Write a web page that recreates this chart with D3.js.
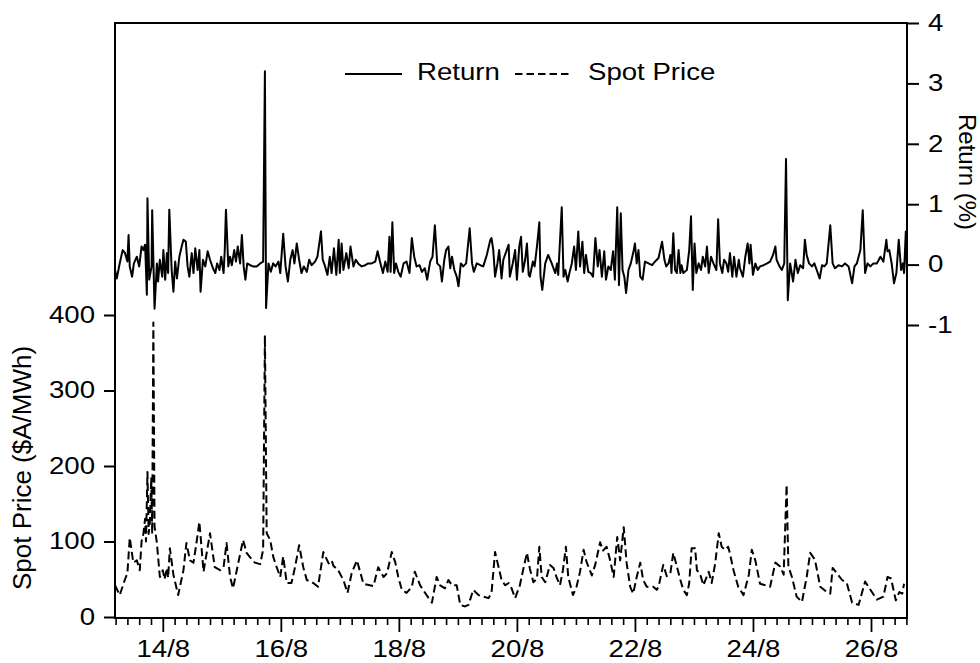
<!DOCTYPE html>
<html>
<head>
<meta charset="utf-8">
<script src="https://cdn.jsdelivr.net/npm/d3@7/dist/d3.min.js"></script>
<style>
  html, body { margin: 0; padding: 0; background: #fff; }
  svg { display: block; }
  text { font-family: "Liberation Sans", Arial, Helvetica, sans-serif; fill: #000; }
</style>
</head>
<body>
<svg id="chart" width="980" height="663"></svg>
<script>
// ---------------- DATA ----------------
const seriesNames = ["Return", "Spot Price"];

// x values are days of August (14 = 14/8 00:00)
const xTickDays = [14, 16, 18, 20, 22, 24, 26];
const xTickLabels = ["14/8", "16/8", "18/8", "20/8", "22/8", "24/8", "26/8"];
const priceTicks = [0, 100, 200, 300, 400];
const returnTicks = [-1, 0, 1, 2, 3, 4];

const spotDay = [13.19, 13.27, 13.36, 13.40, 13.44, 13.50, 13.56, 13.61, 13.64, 13.67,
  13.70, 13.715, 13.74, 13.76, 13.78, 13.805, 13.82, 13.84, 13.86, 13.90,
  13.95, 14.00, 14.03, 14.07, 14.09, 14.12, 14.18, 14.26, 14.35, 14.40,
  14.46, 14.52, 14.57, 14.62, 14.69, 14.80, 14.88, 14.97, 15.03, 15.08,
  15.14, 15.19, 15.28, 15.36, 15.42, 15.48, 15.56, 15.65, 15.70, 15.73,
  15.76, 15.82, 15.87, 15.93, 15.99, 16.04, 16.10, 16.18, 16.24, 16.31,
  16.38, 16.44, 16.55, 16.63, 16.72, 16.81, 16.86, 16.89, 16.97, 17.06,
  17.13, 17.20, 17.29, 17.40, 17.57, 17.65, 17.74, 17.80, 17.88, 17.94,
  17.99, 18.05, 18.13, 18.22, 18.27, 18.36, 18.47, 18.56, 18.64, 18.70,
  18.78, 18.84, 18.90, 18.98, 19.04, 19.12, 19.18, 19.26, 19.35, 19.43,
  19.52, 19.57, 19.63, 19.69, 19.74, 19.80, 19.86, 19.91, 19.97, 20.05,
  20.11, 20.17, 20.22, 20.28, 20.34, 20.38, 20.42, 20.48, 20.56, 20.62,
  20.67, 20.73, 20.78, 20.83, 20.87, 20.95, 21.01, 21.07, 21.13, 21.18,
  21.27, 21.33, 21.41, 21.46, 21.52, 21.58, 21.64, 21.70, 21.75, 21.81,
  21.86, 21.92, 21.97, 22.03, 22.09, 22.14, 22.20, 22.31, 22.37, 22.40,
  22.48, 22.54, 22.60, 22.65, 22.71, 22.77, 22.82, 22.88, 22.92, 22.96,
  23.02, 23.05, 23.10, 23.16, 23.25, 23.30, 23.36, 23.42, 23.47, 23.53,
  23.58, 23.61, 23.67, 23.75, 23.84, 23.93, 23.98, 24.04, 24.12, 24.21,
  24.29, 24.38, 24.46, 24.52, 24.57, 24.60, 24.66, 24.74, 24.83, 24.91,
  24.97, 25.05, 25.14, 25.22, 25.31, 25.35, 25.42, 25.51, 25.59, 25.68,
  25.79, 25.90, 25.99, 26.10, 26.21, 26.28, 26.34, 26.42, 26.48, 26.53, 26.56];
const spotPrice = [42, 29, 50, 58, 105, 72, 75, 62, 100, 110,
  130, 100, 192, 110, 125, 185, 110, 390, 120, 98,
  53, 62, 50, 65, 52, 91, 56, 29, 62, 98,
  75, 72, 98, 126, 60, 111, 66, 62, 66, 98,
  53, 38, 72, 102, 85, 79, 72, 70, 89, 373,
  111, 102, 80, 66, 53, 80, 45, 45, 66, 95,
  66, 49, 45, 40, 86, 71, 75, 68, 62, 49,
  32, 58, 75, 44, 41, 66, 53, 58, 86, 72,
  53, 36, 32, 40, 60, 42, 29, 19, 53, 42,
  38, 49, 42, 42, 16, 14, 16, 36, 29, 27,
  25, 32, 86, 66, 49, 42, 45, 38, 25, 42,
  64, 85, 64, 46, 51, 93, 53, 46, 69, 65,
  53, 42, 62, 93, 53, 29, 40, 60, 89, 73,
  55, 70, 99, 88, 93, 75, 53, 106, 75, 119,
  71, 40, 31, 53, 72, 49, 40, 40, 36, 40,
  69, 54, 58, 85, 67, 49, 36, 29, 45, 91,
  91, 62, 58, 42, 60, 45, 71, 111, 93, 89,
  93, 84, 62, 40, 29, 56, 89, 75, 44, 42,
  40, 72, 67, 56, 175, 67, 53, 27, 20, 53,
  85, 76, 40, 35, 31, 65, 58, 49, 45, 19,
  16, 47, 36, 23, 27, 53, 51, 22, 33, 31, 44];

const returnDay = [13.19, 13.22, 13.27, 13.32, 13.36, 13.40, 13.42, 13.44, 13.48, 13.51,
  13.56, 13.60, 13.64, 13.67, 13.70, 13.73, 13.74, 13.77, 13.81, 13.82,
  13.86, 13.90, 13.92, 13.95, 13.99, 14.01, 14.04, 14.07, 14.09, 14.11,
  14.15, 14.18, 14.21, 14.24, 14.28, 14.32, 14.35, 14.39, 14.42, 14.45,
  14.49, 14.52, 14.55, 14.59, 14.62, 14.64, 14.68, 14.72, 14.76, 14.80,
  14.85, 14.89, 14.92, 14.96, 14.99, 15.03, 15.05, 15.07, 15.11, 15.14,
  15.17, 15.21, 15.24, 15.27, 15.31, 15.34, 15.37, 15.40, 15.43, 15.48,
  15.53, 15.59, 15.65, 15.70, 15.73, 15.75, 15.79, 15.83, 15.87, 15.91,
  15.96, 15.99, 16.04, 16.08, 16.12, 16.16, 16.20, 16.23, 16.27, 16.31,
  16.35, 16.39, 16.44, 16.48, 16.52, 16.58, 16.62, 16.68, 16.71, 16.75,
  16.79, 16.83, 16.86, 16.90, 16.94, 16.98, 17.00, 17.03, 17.06, 17.11,
  17.15, 17.18, 17.23, 17.27, 17.31, 17.37, 17.43, 17.48, 17.54, 17.60,
  17.64, 17.68, 17.73, 17.77, 17.81, 17.84, 17.86, 17.89, 17.92, 17.95,
  17.99, 18.03, 18.08, 18.13, 18.18, 18.22, 18.26, 18.30, 18.35, 18.39,
  18.44, 18.48, 18.53, 18.57, 18.61, 18.65, 18.70, 18.73, 18.77, 18.80,
  18.84, 18.87, 18.90, 18.94, 18.98, 19.01, 19.05, 19.09, 19.14, 19.20,
  19.24, 19.27, 19.32, 19.38, 19.43, 19.49, 19.55, 19.57, 19.60, 19.63,
  19.67, 19.70, 19.74, 19.77, 19.82, 19.86, 19.88, 19.93, 19.97, 20.00,
  20.04, 20.07, 20.10, 20.14, 20.17, 20.20, 20.22, 20.27, 20.30, 20.34,
  20.38, 20.40, 20.43, 20.48, 20.53, 20.59, 20.65, 20.68, 20.70, 20.76,
  20.79, 20.82, 20.86, 20.89, 20.93, 20.97, 21.00, 21.04, 21.07, 21.11,
  21.14, 21.17, 21.21, 21.25, 21.29, 21.33, 21.37, 21.40, 21.44, 21.48,
  21.51, 21.55, 21.59, 21.63, 21.66, 21.70, 21.73, 21.76, 21.79, 21.82,
  21.85, 21.89, 21.93, 21.98, 22.00, 22.03, 22.06, 22.09, 22.13, 22.17,
  22.23, 22.29, 22.34, 22.40, 22.46, 22.50, 22.53, 22.57, 22.60, 22.62,
  22.65, 22.68, 22.71, 22.74, 22.77, 22.79, 22.82, 22.88, 22.92, 22.95,
  22.98, 23.01, 23.04, 23.08, 23.12, 23.15, 23.19, 23.22, 23.25, 23.29,
  23.33, 23.38, 23.41, 23.44, 23.48, 23.51, 23.55, 23.58, 23.61, 23.65,
  23.68, 23.72, 23.76, 23.78, 23.83, 23.87, 23.91, 23.94, 23.96, 24.00,
  24.04, 24.08, 24.12, 24.18, 24.24, 24.29, 24.34, 24.38, 24.40, 24.45,
  24.49, 24.53, 24.56, 24.59, 24.63, 24.68, 24.72, 24.76, 24.80, 24.85,
  24.88, 24.91, 24.95, 25.00, 25.04, 25.08, 25.13, 25.17, 25.21, 25.25,
  25.31, 25.35, 25.39, 25.45, 25.51, 25.56, 25.62, 25.68, 25.72, 25.76,
  25.82, 25.86, 25.90, 25.94, 25.99, 26.04, 26.10, 26.16, 26.21, 26.26,
  26.28, 26.31, 26.35, 26.39, 26.43, 26.47, 26.51, 26.54, 26.56, 26.59, 26.61];
const returnPct = [-0.09, -0.23, 0.02, 0.24, 0.19, 0.05, 0.49, -0.03, -0.20, 0.02,
  0.13, -0.03, 0.30, 0.24, 0.33, -0.50, 1.10, -0.25, -0.03, 0.90,
  -0.73, 0.02, -0.28, 0.08, -0.20, 0.24, -0.25, 0.19, -0.14, 0.91,
  -0.09, -0.45, 0.05, -0.23, 0.13, 0.30, 0.41, 0.38, -0.03, -0.20,
  0.19, -0.14, 0.27, -0.09, 0.24, -0.45, 0.08, -0.03, 0.22, 0.08,
  -0.06, -0.14, 0.02, -0.09, 0.13, -0.14, 0.24, 0.91, -0.03, 0.13,
  -0.01, 0.24, 0.05, 0.30, 0.02, 0.49, -0.03, -0.25, 0.02, -0.01,
  -0.03, -0.03, 0.02, 0.05, 3.20, -0.72, 0.02, -0.12, 0.02, -0.03,
  0.05, -0.14, 0.51, -0.03, -0.28, 0.08, 0.24, 0.02, 0.35, 0.08,
  -0.14, -0.03, -0.12, 0.08, -0.01, 0.05, 0.13, 0.55, 0.08, -0.03,
  -0.17, 0.13, -0.14, 0.27, -0.17, 0.41, -0.14, 0.35, -0.09, 0.19,
  -0.06, 0.30, -0.03, 0.08, 0.02, -0.03, -0.01, 0.02, 0.02, 0.05,
  0.22, 0.05, -0.14, 0.05, -0.12, 0.46, -0.12, 0.70, -0.14, 0.02,
  -0.12, -0.20, 0.02, 0.05, -0.14, 0.44, 0.13, -0.03, -0.01, -0.12,
  -0.06, -0.25, 0.05, 0.13, 0.65, 0.02, -0.03, -0.28, 0.08, 0.24,
  0.30, -0.06, 0.13, -0.09, -0.20, -0.36, 0.02, -0.03, 0.02, 0.60,
  0.02, -0.12, 0.02, -0.01, -0.03, 0.16, 0.41, 0.44, 0.24, -0.20,
  0.02, 0.24, -0.23, 0.08, 0.22, 0.33, -0.20, 0.02, 0.24, -0.25,
  0.30, 0.46, -0.12, 0.08, 0.35, -0.17, -0.20, 0.05, -0.03, 0.30,
  0.70, -0.20, -0.42, 0.02, 0.16, 0.02, -0.14, 0.02, -0.17, 0.95,
  -0.20, -0.09, -0.28, -0.14, 0.02, 0.30, -0.09, 0.55, -0.03, 0.38,
  -0.14, 0.16, -0.12, -0.14, -0.20, 0.44, -0.03, 0.24, -0.20, 0.22,
  -0.25, -0.03, -0.09, 0.22, -0.25, 0.95, -0.34, 0.85, -0.09, -0.20,
  -0.47, -0.09, 0.02, 0.24, 0.35, 0.02, 0.24, -0.20, -0.25, 0.05,
  0.02, -0.01, 0.05, 0.11, 0.38, 0.08, -0.03, 0.02, 0.16, -0.14,
  0.52, -0.09, -0.14, 0.24, -0.14, -0.01, -0.14, -0.09, 0.24, 0.80,
  -0.42, 0.35, -0.14, 0.02, -0.09, 0.13, -0.03, 0.30, -0.14, 0.13,
  0.02, -0.09, 0.75, 0.02, -0.14, 0.08, 0.02, -0.12, 0.19, -0.20,
  0.13, -0.20, 0.08, -0.06, -0.20, 0.13, 0.35, 0.02, 0.33, -0.17,
  0.02, -0.09, -0.03, -0.01, 0.02, 0.05, 0.16, 0.30, 0.08, -0.03,
  -0.09, 0.02, 1.75, -0.59, 0.02, -0.28, 0.08, -0.14, -0.01, -0.06,
  0.41, 0.16, 0.02, -0.03, 0.02, -0.09, -0.23, -0.01, -0.03, 0.02,
  0.65, 0.02, -0.06, -0.01, -0.03, 0.02, -0.03, -0.31, -0.03, 0.02,
  0.24, 0.90, -0.14, 0.02, -0.03, 0.02, 0.02, 0.13, 0.05, 0.41,
  0.22, 0.24, 0.02, -0.31, -0.14, 0.41, -0.09, 0.02, -0.14, 0.55, -0.14];

// ---------------- CHART ----------------
const svg = d3.select("#chart");
const W = 980, H = 663;
const plot = { left: 115, right: 907, top: 23, bottom: 618 };
const SX = 1.15;            // horizontal stretch of the original lettering
const FONT = 24;

const x = d3.scaleLinear().domain([13.19, 26.61]).range([plot.left, plot.right]);
const yL = d3.scaleLinear().domain([0, 400]).range([617, 315]);
const yR = d3.scaleLinear().domain([-1, 4]).range([325, 23]);

svg.append("rect").attr("width", W).attr("height", H).attr("fill", "#fff");

// series
const spotData = spotDay.map((d, i) => [d, spotPrice[i]]);
const retData = returnDay.map((d, i) => [d, returnPct[i]]);

svg.append("path")
  .datum(spotData)
  .attr("fill", "none").attr("stroke", "#000").attr("stroke-width", 2)
  .attr("stroke-dasharray", "8,4").attr("stroke-linejoin", "round")
  .attr("d", d3.line().x(d => x(d[0])).y(d => yL(d[1])));

svg.append("path")
  .datum(retData)
  .attr("fill", "none").attr("stroke", "#000").attr("stroke-width", 2)
  .attr("stroke-linejoin", "round")
  .attr("d", d3.line().x(d => x(d[0])).y(d => yR(d[1])));

// frame
svg.append("rect")
  .attr("x", plot.left).attr("y", plot.top)
  .attr("width", plot.right - plot.left).attr("height", plot.bottom - plot.top)
  .attr("fill", "none").attr("stroke", "#000").attr("stroke-width", 2);

function styleAxis(g) {
  g.select(".domain").remove();
  g.selectAll(".tick line").attr("stroke", "#000").attr("stroke-width", 2);
  g.selectAll("text").style("font-size", FONT + "px").attr("fill", "#000");
}

// left axis
const gL = svg.append("g").attr("transform", `translate(${plot.left},0)`)
  .call(d3.axisLeft(yL).tickValues(priceTicks).tickSize(11).tickFormat(d3.format("d")));
styleAxis(gL);
gL.selectAll(".tick text").attr("x", 0).attr("dy", "0.3em")
  .attr("text-anchor", "end")
  .attr("transform", `translate(-20,0) scale(${SX},1)`);

// right axis
const gR = svg.append("g").attr("transform", `translate(${plot.right},0)`)
  .call(d3.axisRight(yR).tickValues(returnTicks).tickSize(12)
    .tickFormat(d => d < 0 ? "-" + Math.abs(d) : String(d)));
styleAxis(gR);
gR.selectAll(".tick text").attr("x", 0).attr("dy", "0.3em")
  .attr("text-anchor", "start")
  .attr("transform", `translate(21,0) scale(${SX},1)`);

// bottom axis: minor ticks
const minorTicks = d3.range(13.2, 26.61, 0.2).filter(v => Math.abs(v / 2 - Math.round(v / 2)) > 0.01);
const gBm = svg.append("g").attr("transform", `translate(0,${plot.bottom})`)
  .call(d3.axisBottom(x).tickValues(minorTicks).tickSize(7).tickFormat(""));
styleAxis(gBm);
gBm.selectAll(".tick line").attr("stroke-width", 1.6);

// bottom axis: major ticks + labels
const gB = svg.append("g").attr("transform", `translate(0,${plot.bottom})`)
  .call(d3.axisBottom(x).tickValues(xTickDays).tickSize(14)
    .tickFormat((d, i) => xTickLabels[i]));
styleAxis(gB);
gB.selectAll(".tick line").attr("stroke-width", 1.8);
gB.selectAll(".tick text").attr("y", 0).attr("dy", 0)
  .attr("text-anchor", "middle")
  .attr("transform", `translate(0,39) scale(${SX},1)`);

// axis titles
svg.append("text")
  .attr("transform", "translate(31,468) rotate(-90)")
  .attr("text-anchor", "middle")
  .style("font-size", "26px")
  .text("Spot Price ($A/MWh)");

svg.append("text")
  .attr("transform", "translate(959,172) rotate(90)")
  .attr("text-anchor", "middle")
  .style("font-size", "24px")
  .text("Return (%)");

// legend
const legend = svg.append("g");
legend.append("line").attr("x1", 345).attr("x2", 402).attr("y1", 74).attr("y2", 74)
  .attr("stroke", "#000").attr("stroke-width", 2);
legend.append("text")
  .attr("transform", `translate(417,80) scale(${SX},1)`)
  .style("font-size", FONT + "px").text(seriesNames[0]);
legend.append("line").attr("x1", 515).attr("x2", 569).attr("y1", 74).attr("y2", 74)
  .attr("stroke", "#000").attr("stroke-width", 2).attr("stroke-dasharray", "7.5,4");
legend.append("text")
  .attr("transform", `translate(588,80) scale(${SX},1)`)
  .style("font-size", FONT + "px").text(seriesNames[1]);
</script>
</body>
</html>
